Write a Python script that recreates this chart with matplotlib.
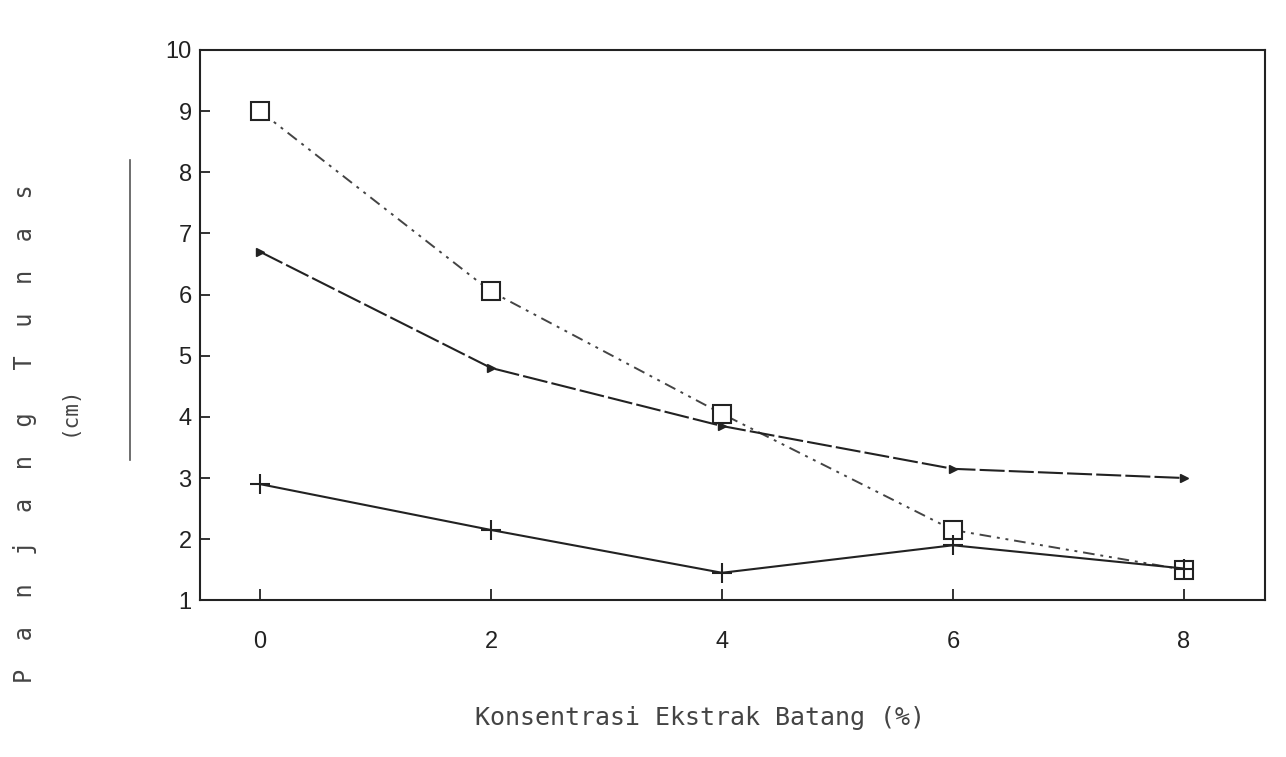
import matplotlib
matplotlib.use("Agg")
import matplotlib.pyplot as plt
from matplotlib.lines import Line2D

# konsentrasi ekstrak batang (%)
konsentrasi = [0, 2, 4, 6, 8]
# panjang tunas (cm), three series
seri_kotak = [9.0, 6.05, 4.05, 2.15, 1.5]
seri_segitiga = [6.7, 4.8, 3.85, 3.15, 3.0]
seri_plus = [2.9, 2.15, 1.45, 1.9, 1.52]

x_ticks = [0, 2, 4, 6, 8]
y_ticks = [1, 2, 3, 4, 5, 6, 7, 8, 9, 10]

fig = plt.figure(figsize=(12.86, 7.57), dpi=100)
ax = fig.add_axes([0.1555, 0.207, 0.828, 0.727])

ink = "#222222"
ax.plot(konsentrasi, seri_kotak, color="#444444", lw=1.4, ls=(0, (6, 3, 1.5, 3, 1.5, 3)),
        marker="s", ms=13, mfc="white", mec=ink, mew=1.5)
ax.plot(konsentrasi, seri_segitiga, color=ink, lw=1.5, ls=(0, (12, 2)),
        marker=">", ms=6, mfc=ink, mec=ink)
ax.plot(konsentrasi, seri_plus, color=ink, lw=1.5, ls="-",
        marker="+", ms=15, mew=1.5, mec=ink)

ax.set_xlim(-0.52, 8.7)
ax.set_ylim(1, 10)
ax.set_xticks(x_ticks)
ax.set_yticks(y_ticks)
ax.tick_params(axis="x", direction="in", length=8, width=1.3, pad=22,
               labelsize=17, colors=ink)
ax.tick_params(axis="y", direction="in", length=7, width=1.3, pad=6,
               labelsize=17, colors=ink)
for lab in ax.get_xticklabels() + ax.get_yticklabels():
    lab.set_family("Liberation Sans")
for s in ax.spines.values():
    s.set_linewidth(1.5)
    s.set_color(ink)

fig.text(700 / 1286, 1 - 718 / 757, "Konsentrasi Ekstrak Batang (%)",
         family="DejaVu Sans Mono", fontsize=18, color="#444444",
         ha="center", va="center")
fig.text(0.0194, 0.4267, "P  a  n  j  a  n  g   T  u  n  a  s",
         family="DejaVu Sans Mono", fontsize=17, color="#444444",
         rotation=90, ha="center", va="center")
fig.text(0.053, 0.458, "(cm)", family="DejaVu Sans Mono", fontsize=15,
         color="#444444", rotation=90, ha="center", va="center")

# faint vertical rule left of the axis, as on the scan
fig.add_artist(Line2D([130 / 1286, 130 / 1286], [1 - 160 / 757, 1 - 460 / 757],
                      color="#555555", lw=1.2, transform=fig.transFigure))

fig.savefig("out.png", dpi=100, facecolor="white")
